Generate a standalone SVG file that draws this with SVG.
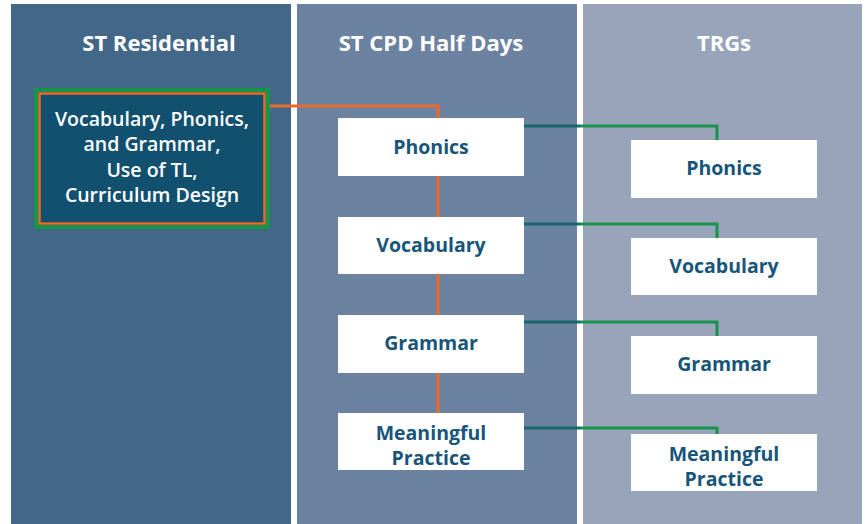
<svg xmlns="http://www.w3.org/2000/svg" width="867" height="524" viewBox="0 0 867 524">
<style>
.hdr{font-family:"Open Sans","Liberation Sans",sans-serif;font-weight:700;font-size:22px;fill:#ffffff;text-anchor:middle}
.lt{font-family:"Open Sans","Liberation Sans",sans-serif;font-weight:600;font-size:19.5px;fill:#ffffff;text-anchor:middle}
.nb{fill:#ffffff}
.nt{font-family:"Open Sans","Liberation Sans",sans-serif;font-weight:700;font-size:19.5px;fill:#17557a;text-anchor:middle}
.or{stroke:#ea6a26;stroke-width:3;fill:none}
.tl{stroke:#17666c;stroke-width:3;fill:none}
.gr{stroke:#17934a;stroke-width:3;fill:none}
</style>
<rect width="867" height="524" fill="#ffffff"/>
<g id="panels">
<rect x="11" y="4" width="280" height="520" fill="#436788"/>
<rect x="297" y="4" width="280" height="520" fill="#6c82a1"/>
<rect x="583" y="4" width="279" height="520" fill="#98a4ba"/>
<text class="hdr" x="159" y="51">ST Residential</text>
<text class="hdr" x="431" y="51">ST CPD Half Days</text>
<text class="hdr" x="724" y="51">TRGs</text>
</g>
<g id="connectors">
<path class="or" d="M270 106 H438 V118"/>
<path class="or" d="M438 176 V217"/>
<path class="or" d="M438 274 V315"/>
<path class="or" d="M438 372 V413"/>
<path class="tl" d="M524 126 H580"/>
<path class="gr" d="M580 126 H717 V140"/>
<path class="tl" d="M524 224 H580"/>
<path class="gr" d="M580 224 H717 V238"/>
<path class="tl" d="M524 322 H580"/>
<path class="gr" d="M580 322 H717 V336"/>
<path class="tl" d="M524 428 H580"/>
<path class="gr" d="M580 428 H717 V434"/>
</g>
<g id="residential">
<rect x="36" y="90" width="232" height="137" fill="#12506f" stroke="#17934a" stroke-width="4"/>
<rect x="39.5" y="93.5" width="225" height="130" fill="none" stroke="#ea6a26" stroke-width="2.5"/>
<text class="lt" x="152" y="126">Vocabulary, Phonics,</text>
<text class="lt" x="152" y="151">and Grammar,</text>
<text class="lt" x="152" y="177">Use of TL,</text>
<text class="lt" x="152" y="202">Curriculum Design</text>
</g>
<g id="cpd-phonics"><rect class="nb" x="338" y="118" width="186" height="58"/><text class="nt" x="431" y="154">Phonics</text></g>
<g id="cpd-vocabulary"><rect class="nb" x="338" y="217" width="186" height="57"/><text class="nt" x="431" y="252">Vocabulary</text></g>
<g id="cpd-grammar"><rect class="nb" x="338" y="315" width="186" height="58"/><text class="nt" x="431" y="350">Grammar</text></g>
<g id="cpd-practice"><rect class="nb" x="338" y="413" width="186" height="57"/><text class="nt" x="431" y="440">Meaningful</text><text class="nt" x="431" y="465">Practice</text></g>
<g id="trg-phonics"><rect class="nb" x="631" y="140" width="186" height="58"/><text class="nt" x="724" y="175">Phonics</text></g>
<g id="trg-vocabulary"><rect class="nb" x="631" y="238" width="186" height="57"/><text class="nt" x="724" y="273">Vocabulary</text></g>
<g id="trg-grammar"><rect class="nb" x="631" y="336" width="186" height="58"/><text class="nt" x="724" y="371">Grammar</text></g>
<g id="trg-practice"><rect class="nb" x="631" y="434" width="186" height="57"/><text class="nt" x="724" y="461">Meaningful</text><text class="nt" x="724" y="486">Practice</text></g>
</svg>
